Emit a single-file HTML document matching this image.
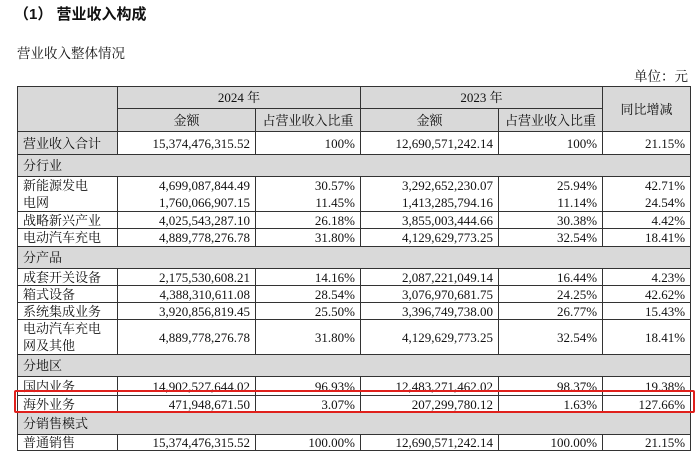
<!DOCTYPE html>
<html><head><meta charset="utf-8"><style>
body{margin:0;width:700px;height:455px;background:#fff;position:relative;overflow:hidden;font-family:"Liberation Serif","Noto Serif CJK SC",serif;color:#111;}
.t{position:absolute;white-space:nowrap}
table{position:absolute;left:17px;top:86px;width:673px;border-collapse:collapse;font-size:13px;table-layout:fixed}
td{border:1px solid #333;padding:0 5px;line-height:15px;white-space:nowrap;overflow:hidden;box-sizing:border-box}
.g{background:#d9d9d9}
.r{text-align:right}
.c{text-align:center}
#box{position:absolute;left:14px;top:390px;width:677px;height:19px;border:2.5px solid #e0201c;border-radius:2px}
</style></head><body>
<div class="t" style="left:14px;top:3px;font-size:15px;font-weight:bold;font-family:'Liberation Sans','Noto Sans CJK SC',sans-serif">（1） 营业收入构成</div>
<div class="t" style="left:17px;top:42px;font-size:13.5px">营业收入整体情况</div>
<div class="t" style="right:12px;top:65px;font-size:13.5px">单位：元</div>
<table>
<colgroup><col style="width:100px"><col style="width:138px"><col style="width:105px"><col style="width:138px"><col style="width:104px"><col style="width:88px"></colgroup>
<tr style="height:22px"><td class="g" rowspan="2"></td><td class="g c" colspan="2">2024 年</td><td class="g c" colspan="2">2023 年</td><td class="g c" rowspan="2">同比增减</td></tr>
<tr style="height:23px"><td class="g c">金额</td><td class="g c">占营业收入比重</td><td class="g c">金额</td><td class="g c">占营业收入比重</td></tr>
<tr style="height:23px"><td class="g">营业收入合计</td><td class="r">15,374,476,315.52</td><td class="r">100%</td><td class="r">12,690,571,242.14</td><td class="r">100%</td><td class="r">21.15%</td></tr>
<tr style="height:22px"><td class="g" colspan="6">分行业</td></tr>
<tr style="height:35px"><td style="line-height:17px">新能源发电<br>电网</td><td class="r" style="line-height:17px">4,699,087,844.49<br>1,760,066,907.15</td><td class="r" style="line-height:17px">30.57%<br>11.45%</td><td class="r" style="line-height:17px">3,292,652,230.07<br>1,413,285,794.16</td><td class="r" style="line-height:17px">25.94%<br>11.14%</td><td class="r" style="line-height:17px">42.71%<br>24.54%</td></tr>
<tr style="height:17px"><td>战略新兴产业</td><td class="r">4,025,543,287.10</td><td class="r">26.18%</td><td class="r">3,855,003,444.66</td><td class="r">30.38%</td><td class="r">4.42%</td></tr>
<tr style="height:18px"><td>电动汽车充电</td><td class="r">4,889,778,276.78</td><td class="r">31.80%</td><td class="r">4,129,629,773.25</td><td class="r">32.54%</td><td class="r">18.41%</td></tr>
<tr style="height:22px"><td class="g" colspan="6">分产品</td></tr>
<tr style="height:17px"><td>成套开关设备</td><td class="r">2,175,530,608.21</td><td class="r">14.16%</td><td class="r">2,087,221,049.14</td><td class="r">16.44%</td><td class="r">4.23%</td></tr>
<tr style="height:17px"><td>箱式设备</td><td class="r">4,388,310,611.08</td><td class="r">28.54%</td><td class="r">3,076,970,681.75</td><td class="r">24.25%</td><td class="r">42.62%</td></tr>
<tr style="height:17px"><td>系统集成业务</td><td class="r">3,920,856,819.45</td><td class="r">25.50%</td><td class="r">3,396,749,738.00</td><td class="r">26.77%</td><td class="r">15.43%</td></tr>
<tr style="height:35px"><td style="line-height:17px">电动汽车充电<br>网及其他</td><td class="r">4,889,778,276.78</td><td class="r">31.80%</td><td class="r">4,129,629,773.25</td><td class="r">32.54%</td><td class="r">18.41%</td></tr>
<tr style="height:22px"><td class="g" colspan="6">分地区</td></tr>
<tr style="height:19px"><td>国内业务</td><td class="r">14,902,527,644.02</td><td class="r">96.93%</td><td class="r">12,483,271,462.02</td><td class="r">98.37%</td><td class="r">19.38%</td></tr>
<tr style="height:17px"><td>海外业务</td><td class="r">471,948,671.50</td><td class="r">3.07%</td><td class="r">207,299,780.12</td><td class="r">1.63%</td><td class="r">127.66%</td></tr>
<tr style="height:22px"><td class="g" colspan="6">分销售模式</td></tr>
<tr style="height:16px"><td>普通销售</td><td class="r">15,374,476,315.52</td><td class="r">100.00%</td><td class="r">12,690,571,242.14</td><td class="r">100.00%</td><td class="r">21.15%</td></tr>
</table>
<div id="box"></div>
</body></html>
